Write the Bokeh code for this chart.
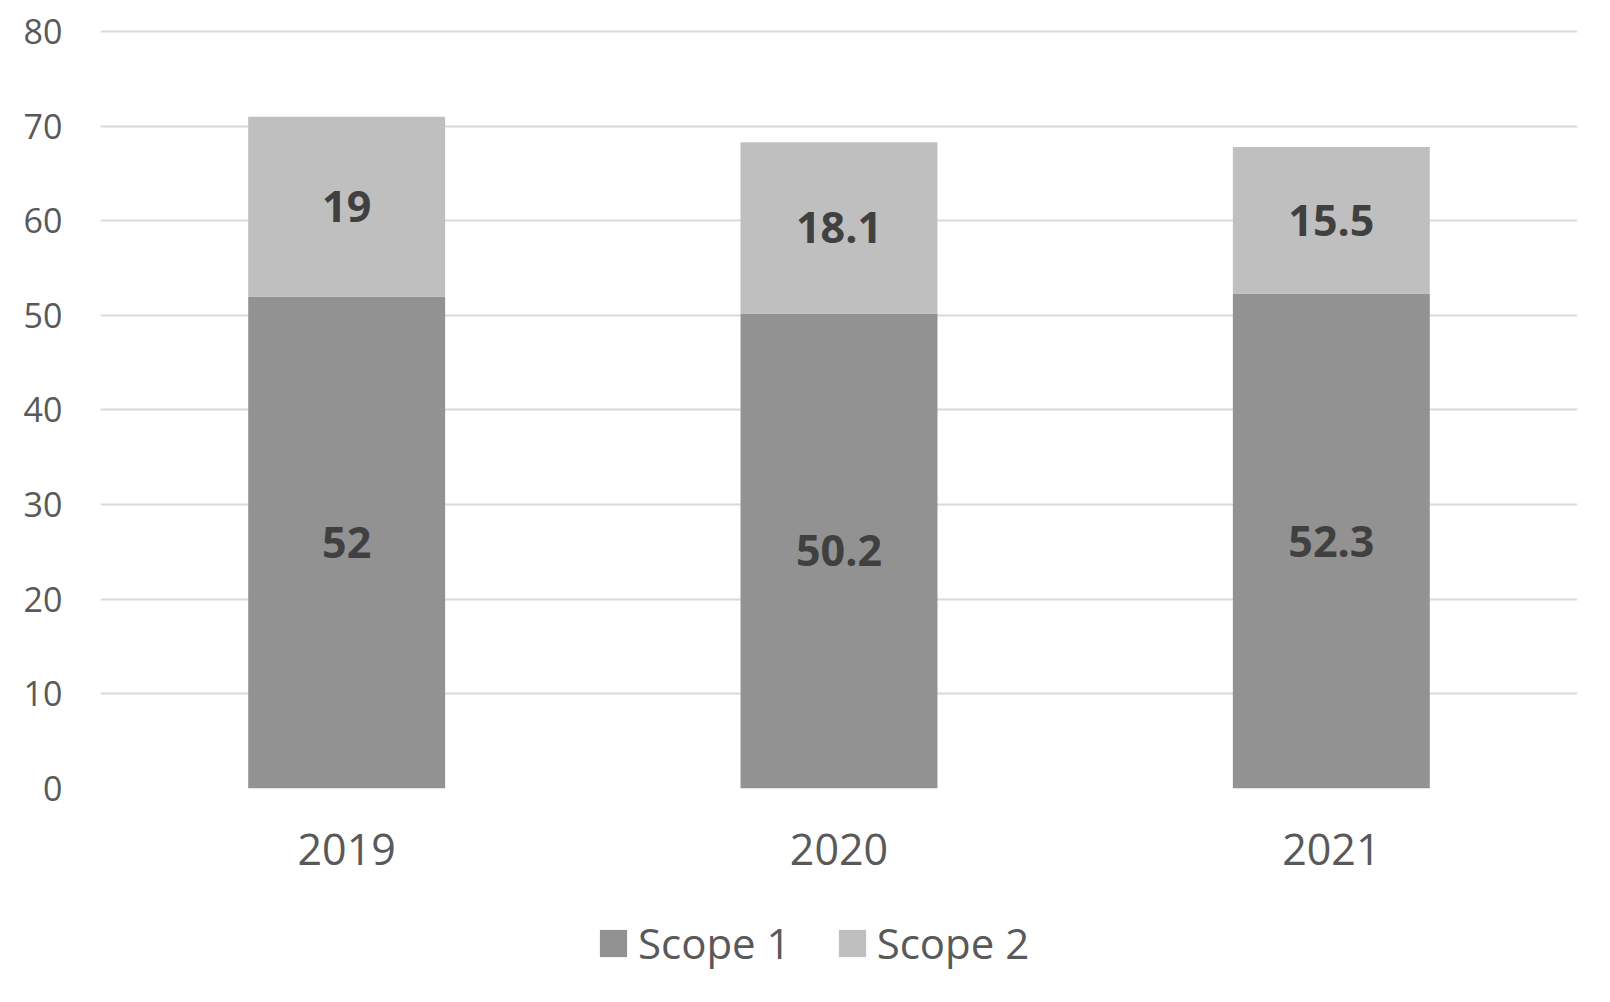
from bokeh.plotting import figure
from bokeh.layouts import column
from bokeh.models import ColumnDataSource, Range1d, FactorRange, Legend, LegendItem, FixedTicker
from bokeh.core.properties import value
from bokeh.embed import file_html
from bokeh.resources import INLINE

years = ["2019", "2020", "2021"]
scope1 = [52, 50.2, 52.3]
scope2 = [19, 18.1, 15.5]
series = ["Scope 1", "Scope 2"]
colors = ["#929292", "#BFBFBF"]
y_ticks = [0, 10, 20, 30, 40, 50, 60, 70, 80]

FONT = "Open Sans"

src = ColumnDataSource(dict(years=years, s1=scope1, s2=scope2))

p = figure(x_range=years, y_range=Range1d(0, 80.21), width=1610, height=900,
           output_backend="svg", toolbar_location=None,
           min_border_left=100, min_border_right=33, min_border_top=29, min_border_bottom=112)
p.outline_line_color = None
p.background_fill_color = "white"
p.border_fill_color = "white"

p.xgrid.grid_line_color = None
p.ygrid.grid_line_color = "#D9D9D9"
p.ygrid.grid_line_width = 2

renderers = p.vbar_stack(["s1", "s2"], x="years", width=0.4, source=src,
                         color=colors, line_color=None)

# labels
mid1 = [v / 2 for v in scope1]
mid2 = [a + b / 2 for a, b in zip(scope1, scope2)]
lab1 = [("%g" % v) for v in scope1]
lab2 = [("%g" % v) for v in scope2]
lsrc = ColumnDataSource(dict(x=years + years, y=mid1 + mid2, t=lab1 + lab2))
p.text(x="x", y="y", text="t", source=lsrc, text_font=value(FONT), text_font_style="bold",
       text_font_size="43px", text_color="#404040", text_align="center", text_baseline="middle")

p.yaxis.ticker = FixedTicker(ticks=y_ticks)
p.yaxis.axis_line_color = None
p.yaxis.major_tick_line_color = None
p.yaxis.minor_tick_line_color = None
p.yaxis.major_tick_out = 0
p.yaxis.major_label_standoff = 38
p.yaxis.major_label_text_font = FONT
p.yaxis.major_label_text_font_size = "34px"
p.yaxis.major_label_text_color = "#595959"

p.xaxis.axis_line_color = None
p.xaxis.major_tick_line_color = None
p.xaxis.minor_tick_line_color = None
p.xaxis.major_tick_out = 0
p.xaxis.major_label_standoff = 45
p.xaxis.major_label_text_font = FONT
p.xaxis.major_label_text_font_size = "43px"
p.xaxis.major_label_text_color = "#595959"

# legend strip: the same bars on a range that shows none of them, only to feed the legend
lf = figure(width=1610, height=102, output_backend="svg", toolbar_location=None,
            x_range=FactorRange(factors=["legend"]), y_range=Range1d(-2, -1),
            min_border_left=0, min_border_right=0, min_border_top=0, min_border_bottom=0)
lf.axis.visible = False
lf.grid.visible = False
lf.outline_line_color = None
lf.border_fill_color = "white"
lf.background_fill_color = "white"
lrs = lf.vbar_stack(["s1", "s2"], x="years", width=0.4, source=src, color=colors, line_color=None)

legend = Legend(items=[LegendItem(label=series[i], renderers=[lrs[i]]) for i in range(2)],
                orientation="horizontal", location=(496, 31),
                glyph_width=34, glyph_height=34, label_standoff=8, spacing=44,
                padding=0, margin=0, border_line_color=None, background_fill_alpha=0,
                label_text_font=FONT, label_text_font_size="42px", label_text_color="#595959")
lf.add_layout(legend, "center")

layout = column(p, lf, spacing=0)
open("out.html", "w").write(file_html(layout, INLINE))
